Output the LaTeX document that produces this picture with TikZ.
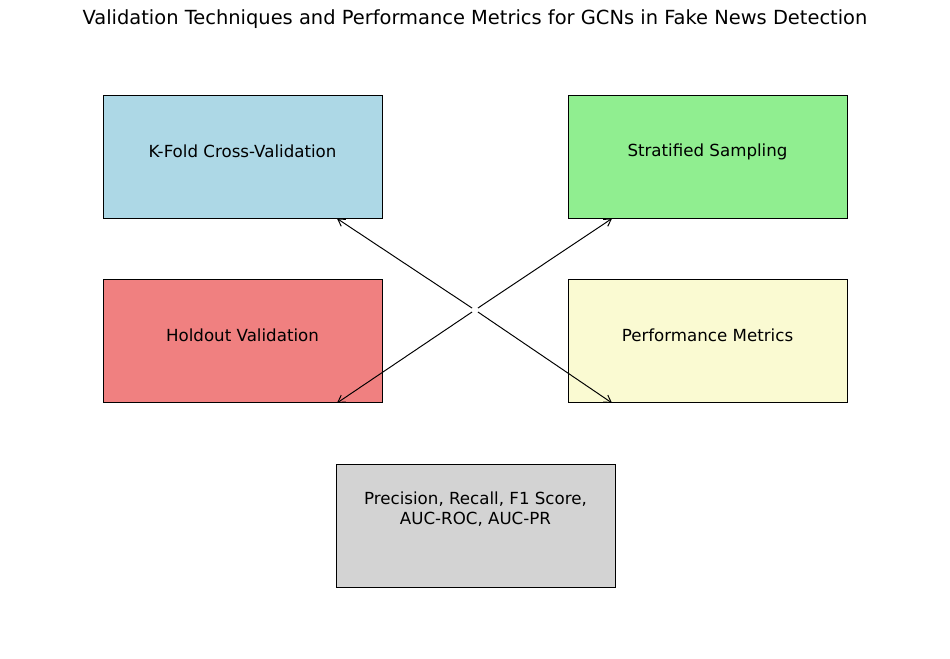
\documentclass[tikz,border=0pt]{standalone}
\usepackage{fontspec}
\setmainfont{DejaVu Sans}
\usepackage{xcolor}
\usetikzlibrary{calc,arrows.meta,positioning}
\definecolor{lightblue}{HTML}{ADD8E6}
\definecolor{lightgreen}{HTML}{90EE90}
\definecolor{lightcoral}{HTML}{F08080}
\definecolor{lightgold}{HTML}{FAFAD2}
\definecolor{lightgrey}{HTML}{D3D3D3}
\tikzset{
  box/.style={draw, rectangle, line width=0.7pt, minimum width=279*0.72pt, minimum height=123*0.72pt, inner sep=0pt},
  lbl/.style={font=\fontsize{12}{14.5}\selectfont, align=center, inner sep=0pt},
  link/.style={-{Straight Barb[length=5pt,width=6pt]}, line width=0.7pt, shorten <=2.5pt}
}
\begin{document}
\begin{tikzpicture}[x=0.72pt, y=-0.72pt]
  \useasboundingbox (0,0) rectangle (950,659);
  \node[font=\fontsize{14}{17}\selectfont] (title) at (475,19) {Validation Techniques and Performance Metrics for GCNs in Fake News Detection};
  % boxes
  \node[box, fill=lightblue] (kfold) at (242.5,156.5) {};
  \node[box, fill=lightgreen] (strat) at (707.5,156.5) {};
  \node[box, fill=lightcoral] (hold) at (242.5,341) {};
  \node[box, fill=lightgold] (perf) at (707.5,341) {};
  \node[box, fill=lightgrey] (prec) at (475.5,525.5) {};
  % texts
  \node[lbl] (kfoldtxt) at (242.5,151.5) {K-Fold Cross-Validation};
  \node[lbl] (strattxt) at (707.5,151.5) {Stratified Sampling};
  \node[lbl] (holdtxt) at (242.5,335.5) {Holdout Validation};
  \node[lbl] (perftxt) at (707.5,335.5) {Performance Metrics};
  \node[lbl] (prectxt) at (475.5,509.5) {Precision, Recall, F1 Score,\\AUC-ROC, AUC-PR};
  % arrows
  \coordinate (hub) at (475,310);
  \draw[link] (hub) -- (kfold.south -| 337,0);
  \draw[link] (hub) -- (strat.south -| 612,0);
  \draw[link] (hub) -- (hold.south -| 337,0);
  \draw[link] (hub) -- (perf.south -| 612,0);
\end{tikzpicture}
\end{document}
